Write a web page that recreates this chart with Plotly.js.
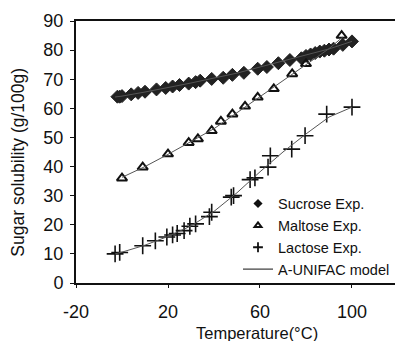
<!DOCTYPE html>
<html>
<head>
<meta charset="utf-8">
<script src="https://cdn.plot.ly/plotly-3.0.1.min.js"></script>
<style>html,body{margin:0;padding:0;background:#fff;}#chart{width:395px;height:341px;}</style>
</head>
<body>
<div id="chart"></div>
<script>
// Experimental data
const sucroseT = [-2, -1, 0, 4, 7, 10, 15, 19, 22, 25, 29, 32, 34, 39, 44, 48, 53, 59, 63, 68, 73, 78, 80, 82, 84, 86, 88, 90, 92, 96, 100];
const sucroseS = [64, 64, 64.2, 64.8, 65.3, 65.7, 66.5, 67, 67.5, 68, 68.5, 69, 69.5, 70.1, 70.5, 71.5, 72.2, 73.6, 74.2, 75.5, 76.6, 77.2, 78, 78.5, 79, 79.5, 79.8, 80.2, 80.5, 81.8, 83];

const maltoseT = [0, 9, 20, 29, 33, 39, 43, 48, 53.5, 59, 66, 74, 80, 95.5];
const maltoseS = [36, 39.8, 44.3, 48.2, 49.5, 52.3, 55.5, 58, 60.7, 63.8, 66.7, 71.8, 75.3, 85];

const lactoseT = [-3, -1, 9, 14.5, 19.5, 22, 24, 27, 29.5, 32, 38, 39, 47.5, 48.5, 55.7, 57.8, 63.5, 64.5, 73.8, 79.6, 89, 100];
const lactoseS = [10, 10.5, 12.8, 14.5, 15.8, 16.5, 17, 18, 19.5, 20.3, 22.8, 24.3, 29.5, 30, 35.5, 36.1, 39.8, 43.7, 46, 50.6, 58, 60.4];

// A-UNIFAC model curves
const modelT = [-3, 0, 10, 20, 30, 40, 50, 60, 70, 80, 90, 100];
const sucroseModel = [63.9, 64.2, 65.6, 67.1, 68.7, 70.4, 72.1, 74.2, 76.3, 78.3, 80.4, 83.0];
const maltoseModelT = [0, 10, 20, 30, 40, 50, 60, 70, 80, 90, 96];
const maltoseModel = [36.3, 40, 44.2, 48.6, 53, 58.5, 64, 69.5, 75.3, 80.5, 84.5];
const lactoseModel = [10, 10.6, 13, 16, 19.6, 24.6, 31, 38.2, 45, 51.2, 57, 60.4];

const xTicks = [-20, 20, 60, 100];
const yTicks = [0, 10, 20, 30, 40, 50, 60, 70, 80, 90];

const lineStyle = {color: '#555', width: 1};
const traces = [
  {x: sucroseT, y: sucroseS, mode: 'markers', name: 'Sucrose Exp.', showlegend: false,
   marker: {symbol: 'diamond', size: 10, color: '#222', line: {color: '#222', width: 1}}},
  {x: maltoseT, y: maltoseS, mode: 'markers', name: 'Maltose Exp.', showlegend: false,
   marker: {symbol: 'triangle-up-open', size: 9, color: '#111', line: {width: 2}}},
  {x: lactoseT, y: lactoseS, mode: 'markers', name: 'Lactose Exp.', showlegend: false,
   marker: {symbol: 'cross-thin-open', size: 12, color: '#111', line: {width: 1.6, color: '#111'}}},
  {x: modelT, y: sucroseModel, mode: 'lines', line: lineStyle, showlegend: false},
  {x: maltoseModelT, y: maltoseModel, mode: 'lines', line: lineStyle, showlegend: false},
  {x: modelT, y: lactoseModel, mode: 'lines', line: lineStyle, showlegend: false},
  // legend entries (small symbols as in the original legend)
  {x: [null], y: [null], mode: 'markers', name: 'Sucrose Exp.',
   marker: {symbol: 'diamond', size: 7, color: '#111'}},
  {x: [null], y: [null], mode: 'markers', name: 'Maltose Exp.',
   marker: {symbol: 'triangle-up-open', size: 6, color: '#111', line: {width: 2}}},
  {x: [null], y: [null], mode: 'markers', name: 'Lactose Exp.',
   marker: {symbol: 'cross-thin-open', size: 7, color: '#111', line: {width: 1.8, color: '#111'}}},
  {x: [null], y: [null], mode: 'lines', name: 'A-UNIFAC model', line: {color: '#111', width: 1}}
];

const layout = {
  width: 395, height: 341,
  margin: {l: 76, r: 0, t: 21, b: 58},
  paper_bgcolor: '#fff', plot_bgcolor: '#fff',
  font: {family: 'Liberation Sans, Arial, sans-serif', color: '#111'},
  showlegend: true,
  legend: {x: 0.508, y: -0.01, xanchor: 'left', yanchor: 'bottom', bgcolor: 'rgba(0,0,0,0)',
    font: {family: 'Liberation Sans, sans-serif', size: 14.5, color: '#111'},
    tracegroupgap: 0},
  xaxis: {range: [-20, 118.7], tickvals: xTicks, ticktext: xTicks.map(String),
    showgrid: false, zeroline: false, showline: true, linecolor: '#111', linewidth: 2,
    mirror: true, ticks: 'outside', ticklen: 3, tickcolor: '#111', ticklabelstandoff: 8,
    tickfont: {size: 18, color: '#111'}},
  yaxis: {range: [0, 90], tickvals: yTicks, ticktext: yTicks.map(String),
    showgrid: false, zeroline: false, showline: true, linecolor: '#111', linewidth: 2,
    ticks: 'outside', ticklen: 4, tickcolor: '#111', ticklabelstandoff: 3,
    tickfont: {size: 18, color: '#111'}},
  annotations: [
    {text: 'Sugar solubility (g/100g)', xref: 'paper', yref: 'paper', x: -0.182, y: 0.463,
     xanchor: 'center', yanchor: 'middle', textangle: -90, showarrow: false, font: {size: 17.5, color: '#111'}},
    {text: 'Temperature(°C)', xref: 'paper', yref: 'paper', x: 0.567, y: -0.19,
     xanchor: 'center', yanchor: 'middle', showarrow: false, font: {size: 16.5, color: '#111'}}
  ]
};

Plotly.newPlot('chart', traces, layout, {displayModeBar: false, staticPlot: true});
</script>
</body>
</html>
